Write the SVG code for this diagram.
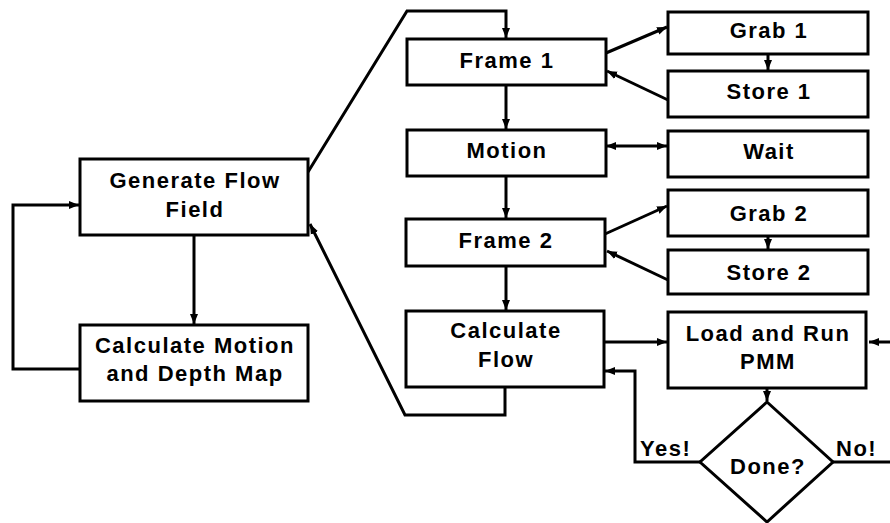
<svg xmlns="http://www.w3.org/2000/svg" width="890" height="523" viewBox="0 0 890 523">
<style>
.box{fill:#fff;stroke:#000;stroke-width:3}
.ln{fill:none;stroke:#000;stroke-width:3;stroke-linejoin:miter}
.t{font-family:"Liberation Sans",Arial,Helvetica,sans-serif;font-weight:bold;font-size:22px;letter-spacing:1.5px;text-anchor:middle;fill:#000}
.lb{font-family:"Liberation Sans",Arial,Helvetica,sans-serif;font-weight:bold;font-size:22px;letter-spacing:1.5px;fill:#000}
</style>
<defs>
<marker id="a" viewBox="0 0 10 10" markerWidth="10" markerHeight="10" refX="10" refY="5" orient="auto-start-reverse" markerUnits="userSpaceOnUse"><path d="M0,1 L10,5 L0,9 Z" fill="#000"/></marker>
</defs>
<rect width="890" height="523" fill="#fff"/>
<g id="connectors">
<path class="ln" d="M194,235 V324" marker-end="url(#a)"/>
<path class="ln" d="M80,369 H13 V205 H79" marker-end="url(#a)"/>
<path class="ln" d="M308,172 L407,11 H506 V38" marker-end="url(#a)"/>
<path class="ln" d="M506,85 V129" marker-end="url(#a)"/>
<path class="ln" d="M506,176 V218" marker-end="url(#a)"/>
<path class="ln" d="M506,266 V310" marker-end="url(#a)"/>
<path class="ln" d="M606,53 L667,27" marker-end="url(#a)"/>
<path class="ln" d="M668,100 L607,71" marker-end="url(#a)"/>
<path class="ln" d="M768,54 V70" marker-end="url(#a)"/>
<path class="ln" d="M606,146 H667" marker-start="url(#a)" marker-end="url(#a)"/>
<path class="ln" d="M605,234 L667,206" marker-end="url(#a)"/>
<path class="ln" d="M668,280 L607,251" marker-end="url(#a)"/>
<path class="ln" d="M768,236 V249" marker-end="url(#a)"/>
<path class="ln" d="M604,342 H667" marker-end="url(#a)"/>
<path class="ln" d="M505,387 V415 H405 L310,224" marker-end="url(#a)"/>
<path class="ln" d="M767,388 V401" marker-end="url(#a)"/>
<path class="ln" d="M700,462 H635 V371 H605" marker-end="url(#a)"/>
<path class="ln" d="M833,462 H896 V342 H869" marker-end="url(#a)"/>
</g>
<g id="generate-flow-field"><rect class="box" x="80" y="159" width="228" height="76"/><text class="t" x="195" y="188">Generate Flow</text><text class="t" x="195" y="217">Field</text></g>
<g id="calculate-motion"><rect class="box" x="80" y="325" width="228" height="76"/><text class="t" x="195" y="353">Calculate Motion</text><text class="t" x="195" y="381">and Depth Map</text></g>
<g id="frame1"><rect class="box" x="407" y="39" width="199" height="46"/><text class="t" x="507" y="68">Frame 1</text></g>
<g id="motion"><rect class="box" x="407" y="130" width="199" height="46"/><text class="t" x="507" y="158">Motion</text></g>
<g id="frame2"><rect class="box" x="406" y="219" width="199" height="47"/><text class="t" x="506" y="248">Frame 2</text></g>
<g id="calculate-flow"><rect class="box" x="406" y="311" width="198" height="76"/><text class="t" x="506" y="338">Calculate</text><text class="t" x="506" y="367">Flow</text></g>
<g id="grab1"><rect class="box" x="668" y="12" width="200" height="42"/><text class="t" x="769" y="38">Grab 1</text></g>
<g id="store1"><rect class="box" x="668" y="71" width="200" height="46"/><text class="t" x="769" y="99">Store 1</text></g>
<g id="wait"><rect class="box" x="668" y="131" width="200" height="46"/><text class="t" x="769" y="159">Wait</text></g>
<g id="grab2"><rect class="box" x="668" y="190" width="200" height="46"/><text class="t" x="769" y="221">Grab 2</text></g>
<g id="store2"><rect class="box" x="668" y="250" width="200" height="44"/><text class="t" x="769" y="280">Store 2</text></g>
<g id="load-run-pmm"><rect class="box" x="668" y="312" width="198" height="76"/><text class="t" x="768" y="341">Load and Run</text><text class="t" x="768" y="369">PMM</text></g>
<g id="done"><path class="box" d="M767,402 L833,462 L767,522 L700,462 Z"/><text class="t" x="768" y="474">Done?</text></g>
<g id="labels"><text class="lb" x="640" y="456">Yes!</text><text class="lb" x="836" y="456">No!</text></g>
</svg>
